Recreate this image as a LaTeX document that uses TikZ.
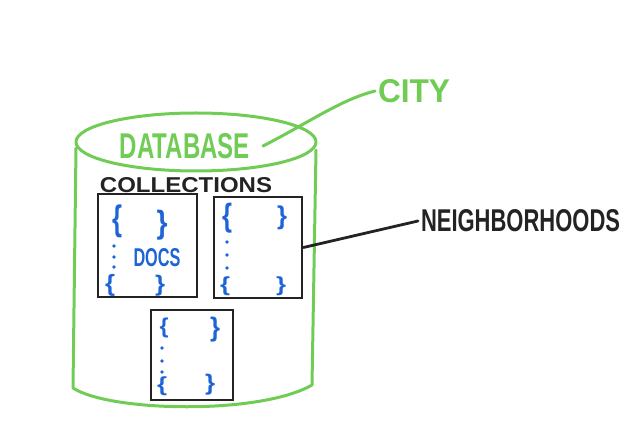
\documentclass[tikz,border=0pt]{standalone}
\usepackage{fontspec}
\usepackage{graphicx}
\setmainfont{Liberation Sans}
\definecolor{cgreen}{RGB}{112,204,84}
\definecolor{cblue}{RGB}{30,100,215}
\definecolor{cink}{RGB}{35,35,35}
\newcommand{\fitlbl}[3]{\resizebox{#1pt}{#2pt}{#3}}
\newcommand{\brc}[3]{\resizebox*{#1pt}{#2pt}{\bfseries #3}}
\begin{document}
\begin{tikzpicture}[x=1pt,y=-1pt,
  cyl/.style={draw=cgreen,line width=3pt,line cap=round,line join=round},
  ink/.style={draw=cink,line width=2.8pt,line cap=round,line join=round},
  boxn/.style={draw=cink,line width=2.8pt,inner sep=0pt},
  lbl/.style={inner sep=0pt,outer sep=3pt,font=\bfseries},
  br/.style={inner sep=0pt,text=cblue},
  dotn/.style={circle,fill=cblue,inner sep=0pt,minimum size=3.6pt}]
\useasboundingbox (0,0) rectangle (644,438);
% cylinder
\draw[cyl] (196,142) ellipse [x radius=120, y radius=29];
\draw[cyl] (76,148) -- (73,388) .. controls (110,412) and (260,415) .. (312,385) -- (316,150);
% labels
\node[lbl,text=cgreen] (db) at (185,146) {\fitlbl{130}{25}{DATABASE}};
\node[lbl,text=cgreen,anchor=west] (city) at (375,91) {\fitlbl{72}{23}{CITY}};
\node[lbl,text=cink] (coll) at (186,185.5) {\fitlbl{172}{15}{COLLECTIONS}};
\node[lbl,text=cink,anchor=west] (nb) at (418,221) {\fitlbl{199}{22}{NEIGHBORHOODS}};
% boxes
\node[boxn,minimum width=99pt,minimum height=103pt] (b1) at (147.5,245.5) {};
\node[boxn,minimum width=88pt,minimum height=101pt] (b2) at (258,247.5) {};
\node[boxn,minimum width=82pt,minimum height=90pt] (b3) at (192,355) {};
% connectors
\draw[cyl] ([xshift=10pt]db.east) .. controls (310,122) and (340,100) .. (city.west);
\draw[ink] (b2.east) -- (nb.west);
% box 1 contents
\node[br] (b1a) at (117,221) {\brc{10}{33}{\{}};
\node[br] (b1b) at (162,225) {\brc{11}{30}{\}}};
\node[dotn] (b1d1) at (114,246) {};
\node[dotn] (b1d2) at (114,257) {};
\node[dotn] (b1d3) at (114,267) {};
\node[br] (b1c) at (110,285) {\brc{10}{22}{\{}};
\node[br] (b1e) at (160,286) {\brc{10}{21}{\}}};
\node[lbl,text=cblue] (docs) at (157,258) {\fitlbl{47}{18}{DOCS}};
% box 2 contents
\node[br] (b2a) at (227,218) {\brc{10}{30}{\{}};
\node[br] (b2b) at (282,218) {\brc{10}{24}{\}}};
\node[dotn] (b2d1) at (227,242) {};
\node[dotn] (b2d2) at (227,255) {};
\node[dotn] (b2d3) at (227,268) {};
\node[br] (b2c) at (225,286) {\brc{10}{19}{\{}};
\node[br] (b2e) at (281,286) {\brc{10}{19}{\}}};
% box 3 contents
\node[br] (b3a) at (164,328) {\brc{9}{20}{\{}};
\node[br] (b3b) at (215,330) {\brc{10}{25}{\}}};
\node[dotn] (b3d1) at (162,348) {};
\node[dotn] (b3d2) at (162,361) {};
\node[dotn] (b3d3) at (162,372) {};
\node[br] (b3c) at (162,386) {\brc{10}{19}{\{}};
\node[br] (b3e) at (210,385) {\brc{10}{21}{\}}};
\end{tikzpicture}
\end{document}
